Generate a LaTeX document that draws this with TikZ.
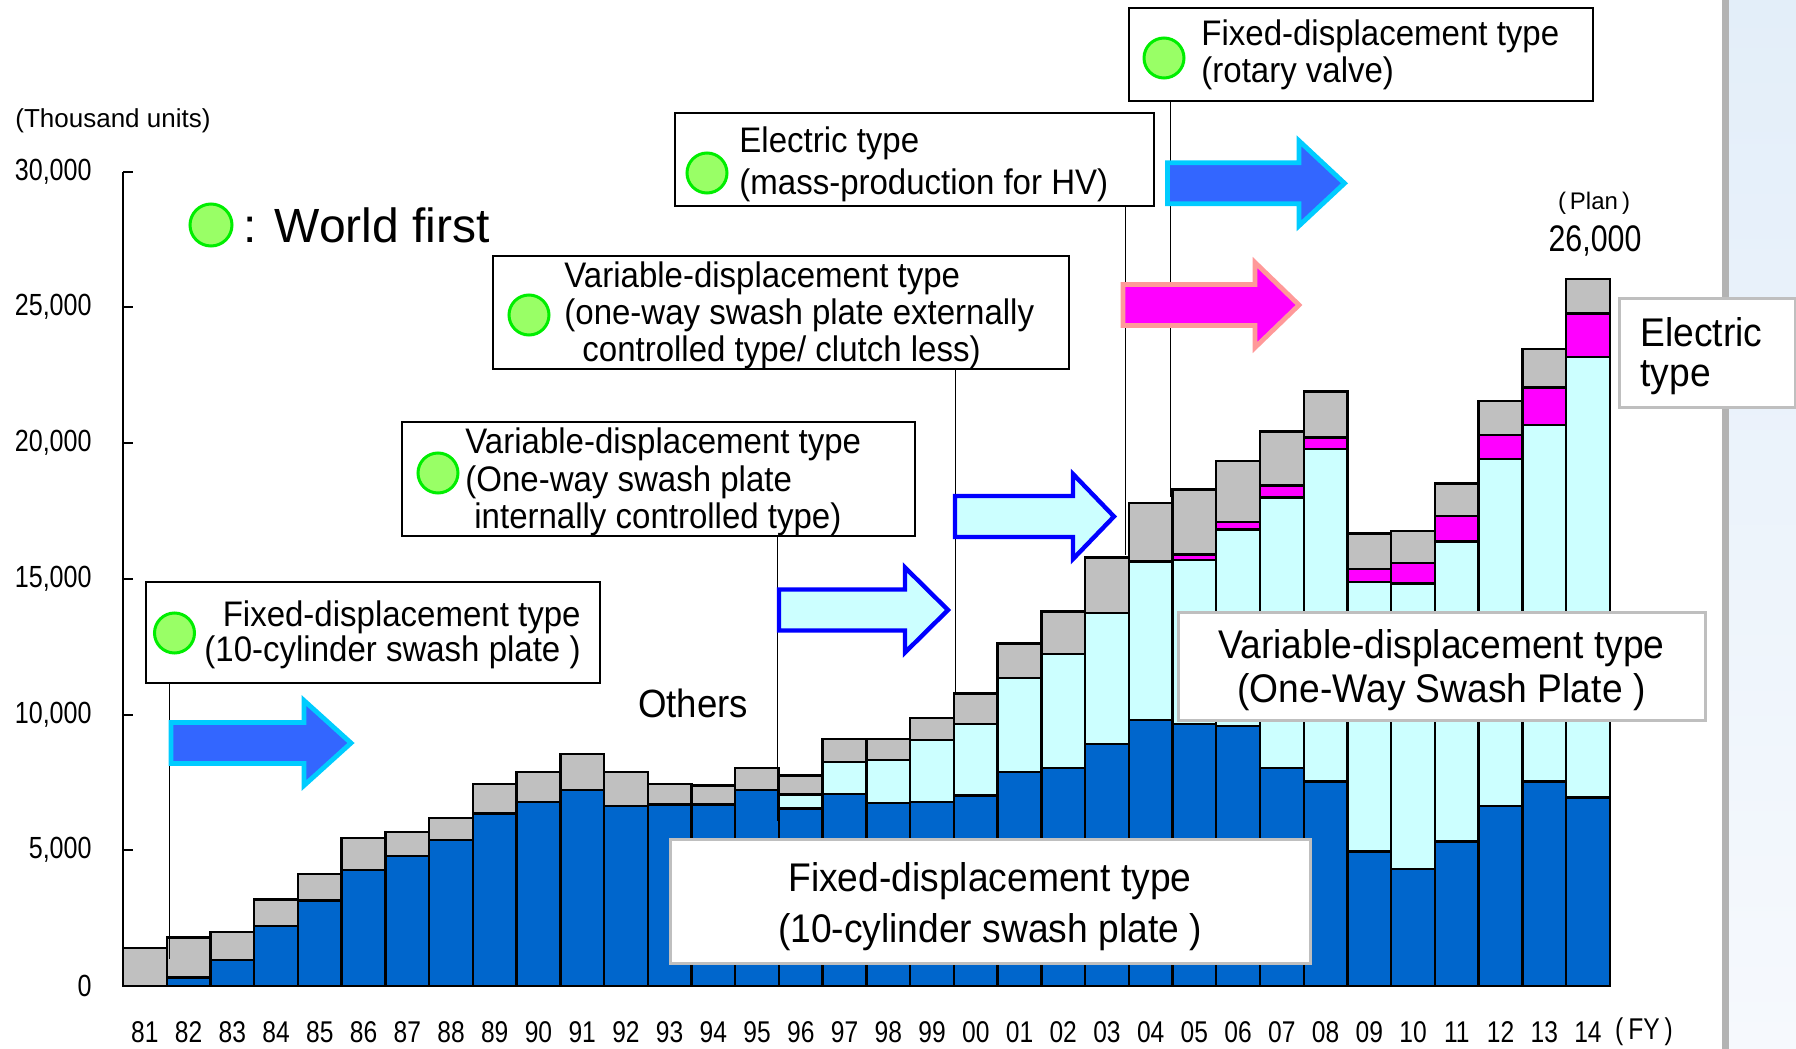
\documentclass[tikz,border=0pt]{standalone}
\usepackage{fontspec}
\setmainfont{Liberation Sans}[FakeStretch=0.93]
\newfontfamily\narrowfont{Liberation Sans}[FakeStretch=0.82]
\newfontfamily\plainfont{Liberation Sans}
\usetikzlibrary{positioning}
\definecolor{fixblue}{HTML}{0066CC}
\definecolor{varcyan}{HTML}{CCFFFF}
\definecolor{elecmag}{HTML}{FF00FF}
\definecolor{othgray}{HTML}{C0C0C0}
\definecolor{dotfill}{HTML}{99FF66}
\definecolor{dotrim}{HTML}{00EE00}
\definecolor{arrowblue}{HTML}{3366FF}
\definecolor{arrowrim}{HTML}{00CCFF}
\definecolor{arrowdeep}{HTML}{0000FF}
\definecolor{arrowpink}{HTML}{FF9999}
\definecolor{sidegray}{HTML}{B3B3B3}
\definecolor{sidetop}{HTML}{E3EEF9}
\definecolor{sidebot}{HTML}{F6F9FD}
% fat arrow: style, x start, x head, x tip, y centre
\newcommand{\fatarrow}[5]{%
  \draw[#1] (#2,{#5-20.5}) -- (#3,{#5-20.5}) -- (#3,{#5-42.5}) -- (#4,#5)
    -- (#3,{#5+42.5}) -- (#3,{#5+20.5}) -- (#2,{#5+20.5}) -- cycle;}
\tikzset{
  seg/.style={draw=black,line width=1.2pt},
  axisline/.style={line width=1pt},
  ticklab/.style={anchor=east,inner sep=0pt,font=\narrowfont\fontsize{15.3}{16}\selectfont},
  yearlab/.style={inner sep=0pt,font=\narrowfont\fontsize{15}{16}\selectfont},
  notebox/.style={draw=black,line width=1pt,fill=white,inner sep=0pt},
  labelbox/.style={draw=black!25,line width=1.5pt,fill=white,inner sep=0pt,align=center},
  notetext/.style={inner sep=0pt,font=\fontsize{17.75}{18.5}\selectfont},
  firstdot/.style={circle,draw=dotrim,fill=dotfill,line width=1.5pt,minimum size=20pt,inner sep=0pt},
  leader/.style={line width=0.8pt},
  solidarrow/.style={fill=arrowblue,draw=arrowrim,line width=2.4pt},
  hollowarrow/.style={fill=varcyan,draw=arrowdeep,line width=2.2pt},
  pinkarrow/.style={fill=elecmag,draw=arrowpink,line width=2.4pt}
}
\begin{document}
\begin{tikzpicture}[x=0.5pt,y=-0.5pt]
\useasboundingbox (0,0) rectangle (1796,1049);
% right margin of the slide
\shade[top color=sidetop,bottom color=sidebot] (1728,0) rectangle (1796,1049);
\fill[sidegray] (1721.5,0) rectangle (1728.5,1049);

% bars: index/fixed/variable/electric/total (thousand units, cumulative)
\foreach \i/\b/\c/\m/\t in {0/0/0/0/1.39, 1/0.31/0.31/0.31/1.78, 2/0.96/0.96/0.96/1.99,
  3/2.22/2.22/2.22/3.18, 4/3.15/3.15/3.15/4.12, 5/4.27/4.27/4.27/5.46, 6/4.79/4.79/4.79/5.67,
  7/5.38/5.38/5.38/6.19, 8/6.35/6.35/6.35/7.45, 9/6.78/6.78/6.78/7.88, 10/7.22/7.22/7.22/8.55,
  11/6.63/6.63/6.63/7.88, 12/6.69/6.69/6.69/7.44, 13/6.69/6.69/6.69/7.38, 14/7.22/7.22/7.22/8.04,
  15/6.54/7.06/7.06/7.75, 16/7.07/8.24/8.24/9.09, 17/6.73/8.32/8.32/9.09, 18/6.78/9.06/9.06/9.88,
  19/7.01/9.64/9.64/10.78, 20/7.89/11.34/11.34/12.62, 21/8.04/12.23/12.23/13.79,
  22/8.92/13.73/13.73/15.79, 23/9.80/15.62/15.65/17.78, 24/9.65/15.69/15.90/18.29,
  25/9.58/16.82/17.10/19.34, 26/8.04/17.99/18.43/20.42, 27/7.53/19.77/20.20/21.90,
  28/4.95/14.89/15.35/16.67, 29/4.30/14.83/15.57/16.76, 30/5.32/16.37/17.32/18.51,
  31/6.64/19.40/20.29/21.55, 32/7.53/20.66/22.05/23.46, 33/6.94/23.16/24.77/26.04}{
  \pgfmathsetmacro{\xl}{123+43.73*\i}
  \pgfmathsetmacro{\xr}{\xl+43.73}
  \filldraw[seg,fill=fixblue] (\xl,986) rectangle (\xr,{986-27.15*\b});
  \filldraw[seg,fill=varcyan] (\xl,{986-27.15*\b}) rectangle (\xr,{986-27.15*\c});
  \filldraw[seg,fill=elecmag] (\xl,{986-27.15*\c}) rectangle (\xr,{986-27.15*\m});
  \filldraw[seg,fill=othgray] (\xl,{986-27.15*\m}) rectangle (\xr,{986-27.15*\t});
}

% axes
\draw[axisline] (123,171.5) -- (123,986) -- (1611,986);
\foreach \v/\lab in {0/0,5/{5,000},10/{10,000},15/{15,000},20/{20,000},25/{25,000},30/{30,000}}{
  \draw[axisline] (123,{986-27.15*\v}) -- +(10,0);
  \node[ticklab] (tick\v) at (92,{986-27.15*\v}) {\lab};
}
\foreach \yr [count=\i from 0] in {81,82,83,84,85,86,87,88,89,90,91,92,93,94,95,96,97,98,99,
  00,01,02,03,04,05,06,07,08,09,10,11,12,13,14}
  \node[yearlab] (yr\i) at ({144.9+43.73*\i},1032) {\yr};
\node[yearlab] (fy) at (1644,1032) {(\,FY\,)};
\node[inner sep=0pt,anchor=west,font=\plainfont\fontsize{13}{14}\selectfont] (units) at (15,121) {(Thousand units)};

% legend
\node[firstdot,minimum size=21pt] (wfdot) at (211,225) {};
\node[inner sep=0pt,anchor=west,font=\plainfont\fontsize{24}{26}\selectfont] (wf) at (243,225) {: World first};
\node[notetext,font=\fontsize{19.7}{20}\selectfont] (others) at (693,703) {Others};
\node[inner sep=0pt,font=\plainfont\fontsize{12}{13}\selectfont] (plan) at (1594,203) {(\,Plan\,)};
\node[inner sep=0pt,font=\narrowfont\fontsize{18.5}{20}\selectfont] (plantotal) at (1595,241) {26,000};

% world-first notes
\node[notebox,minimum width=227.25pt,minimum height=50.5pt] (swash10) at (372.75,632.5) {};
\node[firstdot] (dot1) at (174.5,633) {};
\node[notetext,align=right,anchor=east,font=\fontsize{17.75}{17.5}\selectfont] (swash10t) at (581,635)
  {Fixed-displacement type\\(10-cylinder swash plate )};

\node[notebox,minimum width=256.5pt,minimum height=57pt] (intctrl) at (658.5,478.5) {};
\node[firstdot] (dot2) at (438,473) {};
\node[notetext,align=left,anchor=west,font=\fontsize{17.75}{18.85}\selectfont] (intctrlt) at (465,482)
  {Variable-displacement type\\(One-way swash plate\\\hspace*{4.5pt}internally controlled type)};

\node[notebox,minimum width=288pt,minimum height=56.75pt] (extctrl) at (780.5,312.25) {};
\node[firstdot] (dot3) at (529,315) {};
\node[notetext,align=left,anchor=west,font=\fontsize{17.75}{18.5}\selectfont] (extctrlt) at (564,315.5)
  {Variable-displacement type\\(one-way swash plate externally\\\hspace*{9pt}controlled type/ clutch less)};

\node[notebox,minimum width=239.75pt,minimum height=46.75pt] (elechv) at (914.25,159.25) {};
\node[firstdot] (dot4) at (707,173) {};
\node[notetext,align=left,anchor=west,font=\fontsize{17.75}{21}\selectfont] (elechvt) at (739,164)
  {Electric type\\(mass-production for HV)};

\node[notebox,minimum width=232pt,minimum height=46.5pt] (rotary) at (1360.5,54) {};
\node[firstdot] (dot5) at (1164,58) {};
\node[notetext,align=left,anchor=west,font=\fontsize{17.75}{18.5}\selectfont] (rotaryt) at (1201,55)
  {Fixed-displacement type\\(rotary valve)};

% leaders down to the bars
\coordinate (end82) at (169.5,959);
\coordinate (end96) at (777.5,821);
\coordinate (end00) at (955.5,693);
\coordinate (end04) at (1125.5,555);
\coordinate (end05) at (1170.5,497);
\draw[leader] (swash10.south -| end82) -- (end82);
\draw[leader] (intctrl.south -| end96) -- (end96);
\draw[leader] (extctrl.south -| end00) -- (end00);
\draw[leader] (elechv.south -| end04) -- (end04);
\draw[leader] (rotary.south -| end05) -- (end05);

% arrows
\fatarrow{solidarrow}{171}{304}{351}{743}
\fatarrow{hollowarrow}{779}{905}{948}{610}
\fatarrow{hollowarrow}{955}{1073}{1114}{516.5}
\fatarrow{pinkarrow}{1123}{1255}{1299}{305}
\fatarrow{solidarrow}{1167.5}{1299}{1344.5}{183.3}

% type labels
\node[labelbox,minimum width=263.5pt,minimum height=54pt] (varlabel) at (1441.5,666.5) {};
\node[inner sep=0pt,align=center,font=\fontsize{20}{22}\selectfont] (varlabelt) at (1441.5,670)
  {Variable-displacement type\\(One-Way Swash Plate )};
\node[labelbox,minimum width=320pt,minimum height=62pt] (fixlabel) at (990,901) {};
\node[inner sep=0pt,align=center,font=\fontsize{20}{25.5}\selectfont] (fixlabelt) at (990,907)
  {Fixed-displacement type\\(10-cylinder swash plate )};
\node[labelbox,minimum width=88pt,minimum height=54.5pt] (eleclabel) at (1707,352.5) {};
\node[inner sep=0pt,align=left,anchor=west,font=\fontsize{20}{20}\selectfont] (eleclabelt) at (1640,356)
  {Electric\\type};
\end{tikzpicture}
\end{document}
